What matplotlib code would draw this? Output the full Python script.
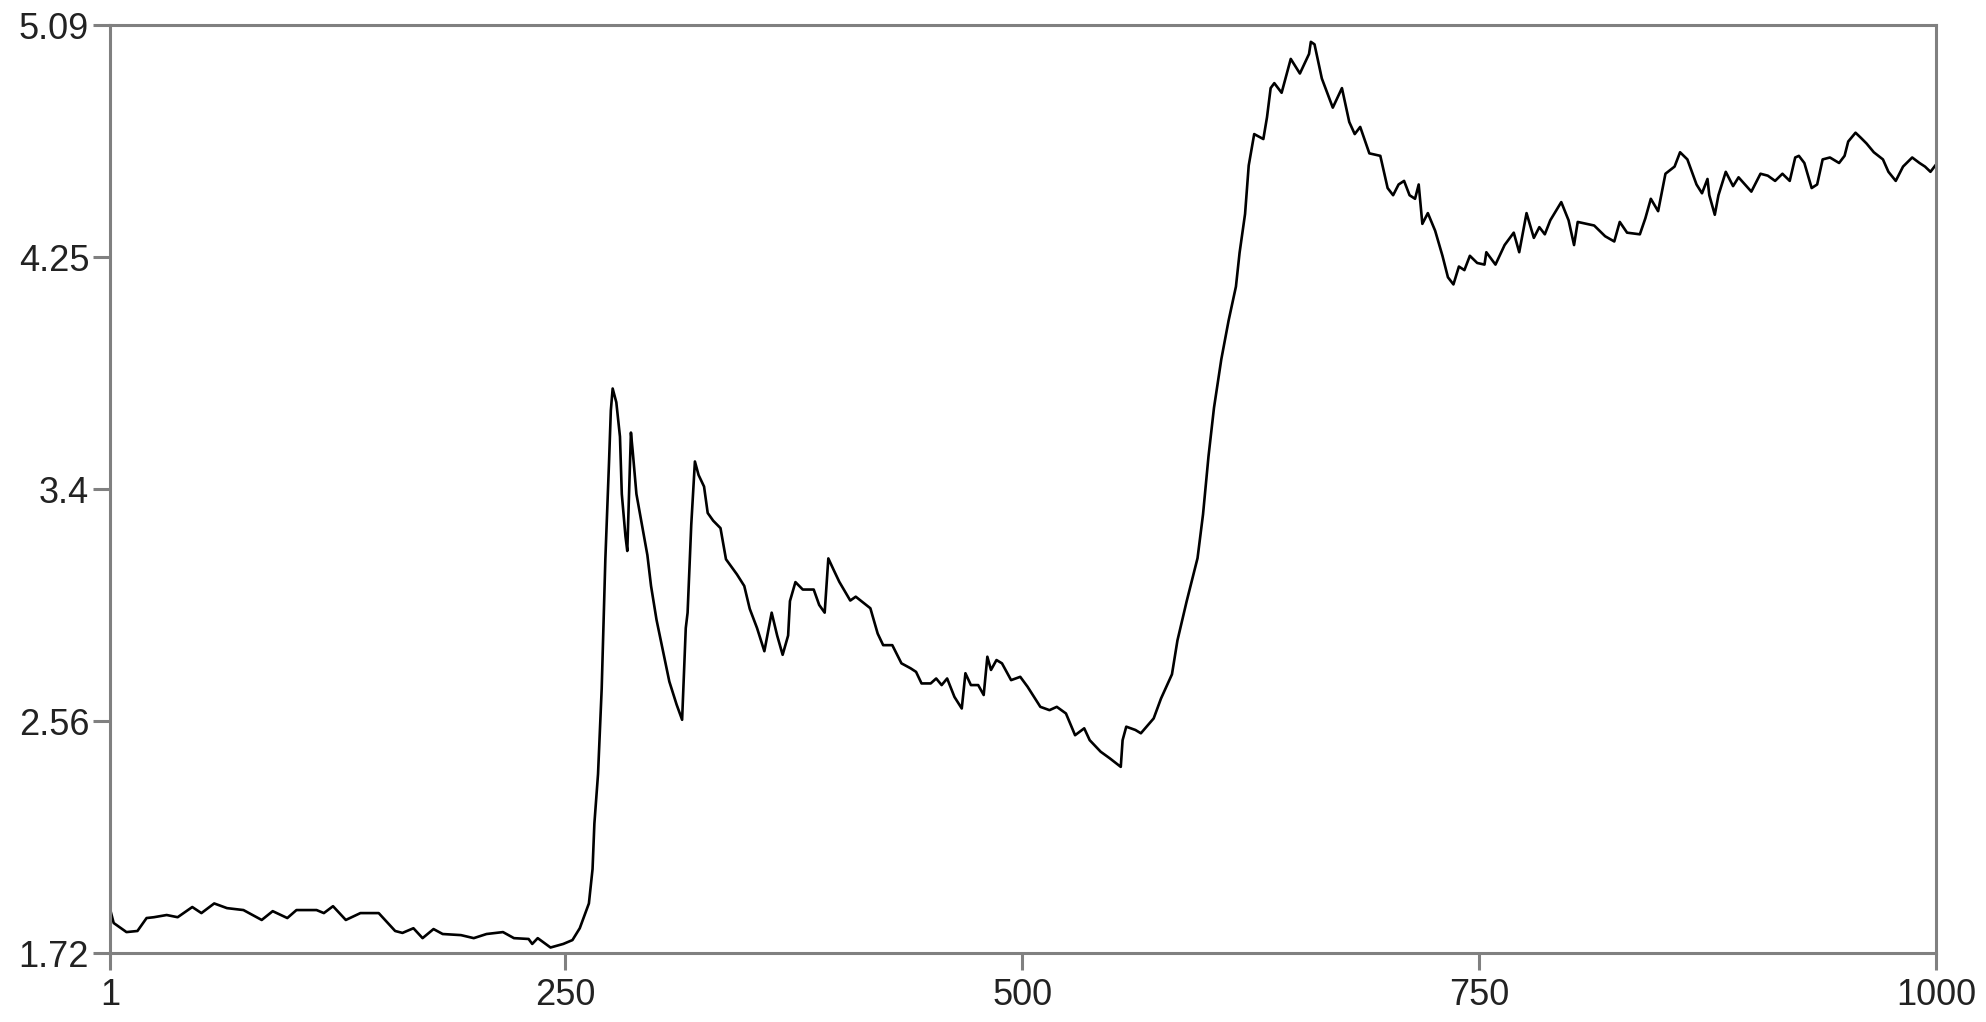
import matplotlib
matplotlib.use("Agg")
import matplotlib.pyplot as plt

# values, (index, value) pairs along the series
idx = [1, 3, 10, 16, 21, 25, 32, 38, 46, 51, 58, 65, 74, 84, 90, 98, 103, 114, 118,
       123, 130, 138, 148, 157, 161, 167, 172, 178, 183, 193, 200, 207, 216, 222,
       230, 232, 235, 242, 249, 254, 258,
       263, 265, 266, 268, 270, 272, 274, 275, 276, 278, 280, 281, 283, 284, 285,
       286, 287, 289, 292, 295, 297, 300, 304, 307, 311, 314, 315, 316, 317, 319,
       321, 323, 326, 328, 331, 335, 338, 344, 348, 351, 355, 359, 363, 366, 369,
       372, 373, 376, 380, 386, 389, 392,
       394, 397, 400, 406, 409, 417, 421, 424, 429, 434, 439, 442, 445, 450, 453,
       456, 459, 463, 467, 469, 472, 476, 479, 481, 483, 486, 489, 494, 499, 503,
       510, 515, 519, 524, 529, 534, 537, 543, 548, 554, 555, 557, 562, 565, 572,
       576, 582, 585, 590, 596, 599, 602, 605, 609, 613, 617, 619, 622, 624, 627,
       632, 634, 636, 638, 642, 647, 652, 657, 658, 660, 664, 670, 675, 679, 682,
       685, 690, 696,
       700, 703, 706, 709, 712, 715, 717, 719, 722, 726, 730, 733, 736, 739, 742,
       745, 749, 753, 754, 759, 764, 769, 772, 776, 780, 783, 786, 789, 795, 799,
       802, 804, 813, 819, 824, 827, 831, 838, 841, 844, 848, 852, 857, 860, 864,
       869, 872, 875, 876, 879, 881, 885, 889, 892, 899, 904, 908, 912, 916, 920,
       923, 925, 928, 932, 935, 938, 942, 947, 950, 952, 956, 959, 962, 966, 971,
       974, 978, 982, 987, 991, 994, 997, 1000]
val = [1.880, 1.829, 1.796, 1.800, 1.847, 1.850, 1.858, 1.850, 1.887, 1.865, 1.900,
       1.883, 1.876, 1.840, 1.872, 1.847, 1.876, 1.876, 1.865, 1.890, 1.840, 1.865,
       1.865, 1.800, 1.793, 1.810, 1.774, 1.807, 1.789, 1.785, 1.774, 1.789, 1.796,
       1.774, 1.771, 1.753, 1.774, 1.740, 1.753, 1.767, 1.810,
       1.900, 2.025, 2.190, 2.370, 2.680, 3.150, 3.500, 3.690, 3.770, 3.720, 3.595,
       3.387, 3.234, 3.180, 3.390, 3.610, 3.540, 3.387, 3.275, 3.165, 3.053, 2.930,
       2.803, 2.706, 2.622, 2.567, 2.734, 2.900, 2.956, 3.275, 3.505, 3.456, 3.414,
       3.318, 3.290, 3.263, 3.150, 3.095, 3.053, 2.970, 2.900, 2.816, 2.956, 2.873,
       2.803, 2.873, 2.998, 3.067, 3.040, 3.040, 2.984, 2.956,
       3.153, 3.110, 3.068, 3.000, 3.014, 2.972, 2.880, 2.838, 2.838, 2.772, 2.754,
       2.741, 2.699, 2.699, 2.717, 2.693, 2.717, 2.650, 2.608, 2.736, 2.693, 2.693,
       2.657, 2.796, 2.748, 2.784, 2.772, 2.711, 2.723, 2.687, 2.614, 2.602, 2.614,
       2.590, 2.511, 2.536, 2.493, 2.451, 2.427, 2.396, 2.493, 2.542, 2.530, 2.518,
       2.572, 2.644, 2.732, 2.855, 2.996, 3.154, 3.313, 3.524, 3.700, 3.876, 4.017,
       4.140, 4.263, 4.404, 4.580, 4.694, 4.676, 4.755, 4.861, 4.879, 4.844, 4.967,
       4.914, 4.985, 5.029, 5.020, 4.896, 4.790, 4.861, 4.738, 4.694, 4.720, 4.624,
       4.615,
       4.498, 4.472, 4.511, 4.524, 4.472, 4.459, 4.511, 4.368, 4.407, 4.343, 4.252,
       4.174, 4.148, 4.213, 4.200, 4.252, 4.226, 4.220, 4.265, 4.220, 4.291, 4.336,
       4.265, 4.407, 4.317, 4.356, 4.330, 4.381, 4.447, 4.381, 4.291, 4.375, 4.362,
       4.323, 4.304, 4.375, 4.336, 4.330, 4.388, 4.459, 4.414, 4.550, 4.576, 4.628,
       4.602, 4.511, 4.479, 4.531, 4.472, 4.401, 4.472, 4.557, 4.505, 4.537, 4.485,
       4.550, 4.543, 4.524, 4.550, 4.524, 4.609, 4.615, 4.589, 4.498, 4.511, 4.602,
       4.609, 4.589, 4.615, 4.667, 4.699, 4.680, 4.660, 4.628, 4.602, 4.557, 4.524,
       4.576, 4.609, 4.589, 4.576, 4.557, 4.583]

x_ticks = [1, 250, 500, 750, 1000]
y_ticks = [1.72, 2.5625, 3.405, 4.2475, 5.09]
y_labels = ["1.72", "2.56", "3.4", "4.25", "5.09"]

plt.rcParams["font.family"] = ["Liberation Sans", "DejaVu Sans"]

fig = plt.figure(figsize=(19.86, 10.22), dpi=100)
ax = fig.add_axes([0.0554, 0.0675, 0.9194, 0.908])

ax.plot(idx, val, color="black", lw=1.9)

ax.set_xlim(1, 1000)
ax.set_ylim(1.72, 5.09)
ax.set_xticks(x_ticks)
ax.set_yticks(y_ticks)
ax.set_yticklabels(y_labels)

for s in ax.spines.values():
    s.set_color("#808080")
    s.set_linewidth(2.2)
ax.tick_params(direction="out", length=12, width=2.2, color="#808080",
               labelsize=26, labelcolor="#222222")
ax.tick_params(axis="x", pad=6)
ax.tick_params(axis="y", pad=3)

fig.savefig("out.png", dpi=100)
